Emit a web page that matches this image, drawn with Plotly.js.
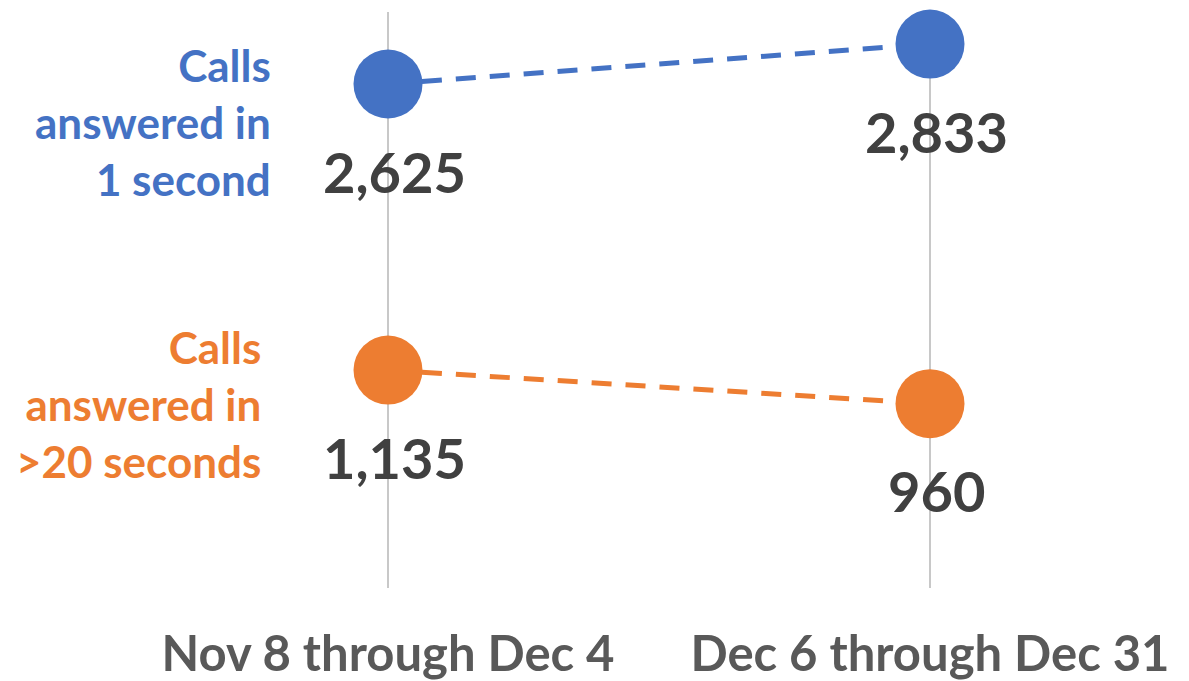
<!DOCTYPE html>
<html>
<head>
<meta charset="utf-8">
<script src="https://cdn.plot.ly/plotly-3.0.1.min.js"></script>
<style>html,body{margin:0;padding:0;background:#fff;}#chart{width:1189px;height:681px;}</style>
</head>
<body>
<div id="chart"></div>
<script>
var categories = ["Nov 8 through Dec 4", "Dec 6 through Dec 31"];
var seriesNames = ["Calls<br>answered in<br>1 second", "Calls<br>answered in<br>>20 seconds"];
var fastCalls = [2625, 2833];
var slowCalls = [1135, 960];
var colors = ["#4472C4", "#ED7D31"];

var FONT = "Lato, 'Open Sans', sans-serif";
var series = [fastCalls, slowCalls];

var traces = series.map(function (vals, i) {
  return {
    type: "scatter",
    mode: "lines+markers",
    x: categories,
    y: vals,
    line: {color: colors[i], width: 5, dash: "20px,14px"},
    marker: {color: colors[i], size: 69},
    cliponaxis: false,
    hoverinfo: "skip",
    showlegend: false
  };
});

var annotations = [];
series.forEach(function (vals, i) {
  vals.forEach(function (v, j) {
    annotations.push({
      x: categories[j], y: v, xref: "x", yref: "y",
      text: v.toLocaleString("en-US"),
      showarrow: false,
      xanchor: "center", yanchor: "middle",
      xshift: 6, yshift: -87,
      font: {family: FONT, size: 56, color: "#404040", weight: 700}
    });
  });
  annotations.push({
    x: categories[0], y: vals[0], xref: "x", yref: "y",
    text: seriesNames[i],
    showarrow: false,
    xanchor: "right", yanchor: "middle", align: "right",
    xshift: i === 0 ? -115 : -125, yshift: i === 0 ? -38 : -34,
    font: {family: FONT, size: 44, color: colors[i], weight: 700}
  });
});

var layout = {
  width: 1189, height: 681,
  margin: {l: 0, r: 0, t: 12, b: 93, pad: 0},
  paper_bgcolor: "#ffffff", plot_bgcolor: "#ffffff",
  xaxis: {
    type: "category",
    range: [-388/542, 1 + 259/542],
    showgrid: true, gridcolor: "#C8C8C8", gridwidth: 2,
    zeroline: false, showline: false, ticks: "",
    tickfont: {family: FONT, size: 49, color: "#595959", weight: 700},
    ticklabelstandoff: 33
  },
  yaxis: {
    range: [0, 3000],
    showgrid: false, zeroline: false, showline: false,
    showticklabels: false, ticks: ""
  },
  annotations: annotations,
  font: {family: FONT}
};

Plotly.newPlot("chart", traces, layout, {staticPlot: true, displayModeBar: false});
</script>
</body>
</html>
